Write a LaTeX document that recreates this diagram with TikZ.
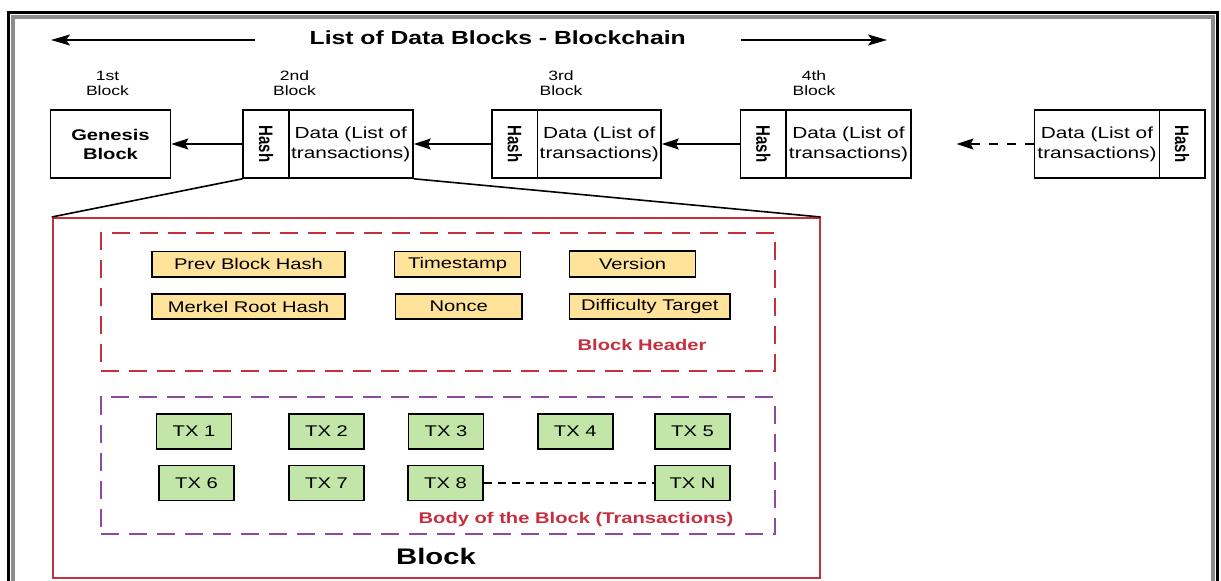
\documentclass[tikz,border=0pt]{standalone}
\usepackage{fontspec}
\setmainfont{Liberation Sans}[FakeStretch=1.3]
\newfontfamily\hashfamily{Liberation Sans}
\usepackage{graphicx}
\usetikzlibrary{arrows.meta}
\definecolor{hdrred}{HTML}{C62F3E}
\definecolor{bodypurple}{HTML}{8E4A9E}
\definecolor{fieldyellow}{HTML}{FFE39B}
\definecolor{txgreen}{HTML}{C2E5A8}
\definecolor{framegray}{HTML}{8C8C8C}
\begin{document}
\begin{tikzpicture}[x=1pt,y=-1pt,
  chainbox/.style={draw=black, line width=1.6pt, inner sep=0pt, minimum height=68pt, align=center, font=\fontsize{16}{20}\selectfont},
  hashtext/.style={rotate=-90, inner sep=0pt, font=\hashfamily\bfseries\fontsize{15}{18}\selectfont},
  blocklabel/.style={align=center, inner sep=0pt, font=\fontsize{13.5}{15}\selectfont},
  conn/.style={line width=1.7pt, -{Stealth[length=17pt, width=11pt, inset=3pt]}},
  titlearrow/.style={line width=1.6pt, -{Stealth[length=19pt, width=11pt, inset=4pt]}},
  field/.style={draw=black, line width=1.6pt, fill=fieldyellow, inner sep=0pt, minimum height=25.5pt, font=\fontsize{15.5}{18}\selectfont},
  txbox/.style={draw=black, line width=1.6pt, fill=txgreen, inner sep=0pt, minimum width=75pt, minimum height=35pt, font=\fontsize{15.5}{18}\selectfont},
  groupbox/.style={line width=1.8pt, dash pattern=on 18pt off 10pt, inner sep=0pt, minimum width=673.7pt},
]
\useasboundingbox (0,0) rectangle (1221,581);
\clip (0,0) rectangle (1221,581);
\fill[white] (0,0) rectangle (1221,581);
% outer frame
\draw[framegray, line width=4pt] (12.5,16.5) rectangle (1212.5,640);
\draw[black, line width=3pt] (8.5,12.5) rectangle (1217.5,640);

% title
\node[anchor=base, inner sep=0pt, font=\bfseries\fontsize{19}{22}\selectfont] (title) at (497.75,44.3) {List of Data Blocks - Blockchain};
\coordinate (tlstart) at (255,40);
\coordinate (tlend) at (51,40);
\coordinate (trstart) at (741,40);
\coordinate (trend) at (887,40);
\draw[titlearrow] (tlstart) -- (tlend);
\draw[titlearrow] (trstart) -- (trend);

% block labels
\node[blocklabel] (l1) at (107.5,83) {1st\\Block};
\node[blocklabel] (l2) at (294.5,83) {2nd\\Block};
\node[blocklabel] (l3) at (561,83) {3rd\\Block};
\node[blocklabel] (l4) at (814,83) {4th\\Block};

% chain
\node[chainbox, minimum width=120pt, font=\bfseries\fontsize{15.5}{19}\selectfont] (gen) at (110.5,144) {Genesis\\Block};
\node[chainbox, minimum width=45.5pt] (h2) at (266,144) {};
\node[hashtext] (h2t) at (h2) {\scalebox{1}[1.3]{Hash}};
\node[chainbox, minimum width=124.5pt] (d2) at (350.75,144) {Data (List of\\transactions)};
\node[chainbox, minimum width=45.5pt] (h3) at (514.75,144) {};
\node[hashtext] (h3t) at (h3) {\scalebox{1}[1.3]{Hash}};
\node[chainbox, minimum width=123.5pt] (d3) at (599.25,144) {Data (List of\\transactions)};
\node[chainbox, minimum width=45.4pt] (h4) at (763.3,144) {};
\node[hashtext] (h4t) at (h4) {\scalebox{1}[1.3]{Hash}};
\node[chainbox, minimum width=125pt] (d4) at (848.5,144) {Data (List of\\transactions)};
\node[chainbox, minimum width=125pt] (d5) at (1097,144) {Data (List of\\transactions)};
\node[chainbox, minimum width=45.2pt] (h5) at (1182.2,144) {};
\node[hashtext] (h5t) at (h5) {\scalebox{1}[1.3]{Hash}};
\coordinate (dashend) at (956.5,144);

\draw[conn] (h2.west) -- (gen.east);
\draw[conn] (h3.west) -- (d2.east);
\draw[conn] (h4.west) -- (d3.east);
\draw[conn, dash pattern=on 9pt off 9pt] (d5.west) -- (dashend);

% zoomed block
\node[draw=hdrred, line width=2pt, inner sep=0pt, minimum width=766.8pt, minimum height=360.3pt] (blk) at (436.2,398.15) {};
\draw[line width=1.6pt] (h2.south west) -- (blk.north west);
\draw[line width=1.6pt] (d2.south east) -- (blk.north east);

\node[groupbox, draw=hdrred, minimum height=137.7pt] (hdr) at (437.85,301.85) {};
\node[groupbox, draw=bodypurple, minimum height=136.7pt] (body) at (437.85,465.65) {};

\node[field, minimum width=193pt] (prev) at (248.5,264.3) {Prev Block Hash};
\node[field, minimum width=126pt] (time) at (457.6,264.3) {Timestamp};
\node[field, minimum width=126pt] (ver) at (632.6,264) {Version};
\node[field, minimum width=193pt] (merk) at (248.5,306.5) {Merkel Root Hash};
\node[field, minimum width=126.4pt] (nonce) at (458.8,306.5) {Nonce};
\node[field, minimum width=160.2pt] (diff) at (649.7,306.5) {Difficulty Target};

\node[anchor=base, inner sep=0pt, text=hdrred, font=\bfseries\fontsize{15.5}{18}\selectfont] (hdrlabel) at (642,350) {Block Header};

\node[txbox] (tx1) at (194,431.5) {TX 1};
\node[txbox] (tx2) at (326.5,431.5) {TX 2};
\node[txbox] (tx3) at (446,431.5) {TX 3};
\node[txbox] (tx4) at (575.25,431.5) {TX 4};
\node[txbox] (tx5) at (692.5,431.5) {TX 5};
\node[txbox] (tx6) at (196.5,482.8) {TX 6};
\node[txbox] (tx7) at (326.5,482.8) {TX 7};
\node[txbox] (tx8) at (445.5,482.8) {TX 8};
\node[txbox] (txn) at (692.5,482.8) {TX N};
\draw[line width=1.6pt, dash pattern=on 8pt off 6pt] (tx8.east) -- (txn.west);

\node[anchor=base, inner sep=0pt, text=hdrred, font=\bfseries\fontsize{15.5}{18}\selectfont] (bodylabel) at (576,523) {Body of the Block (Transactions)};
\node[anchor=base, inner sep=0pt, font=\bfseries\fontsize{22.5}{26}\selectfont] (blklabel) at (436,564) {Block};
\end{tikzpicture}
\end{document}
